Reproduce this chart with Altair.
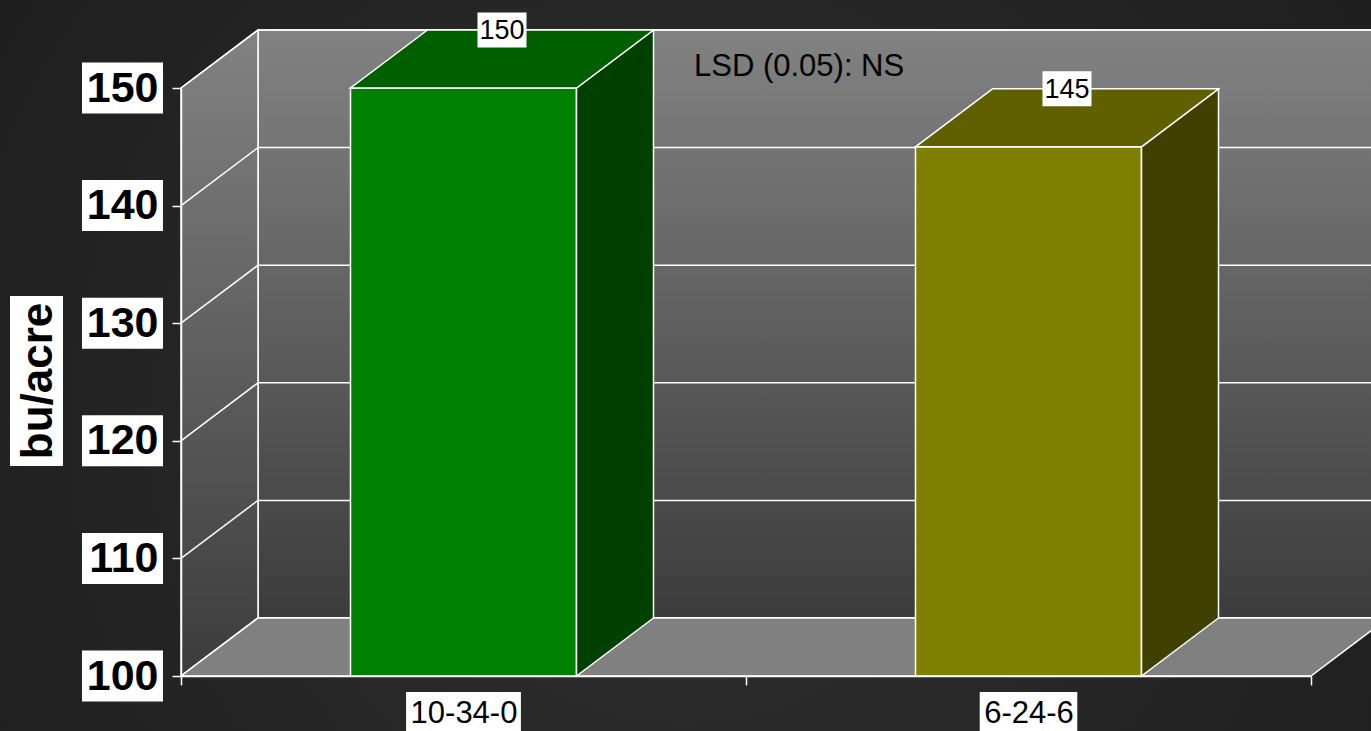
import json
import altair as alt
import pandas as pd

# ---------------- data ----------------
categories = ["10-34-0", "6-24-6"]
yields = [150, 145]
front_colors = ["#008000", "#808000"]
top_colors = ["#006000", "#606000"]
side_colors = ["#004000", "#404000"]
y_ticks = [100, 110, 120, 130, 140, 150]
y_title = "bu/acre"
note_text = "LSD (0.05): NS"

# ---------------- layout / style ----------------
W, H = 1130, 588
PAD = {"left": 181, "top": 88, "right": 60, "bottom": 55}
Y0, Y1 = 100, 150
X0, X1 = -0.5, len(categories) - 0.5
UX = (X1 - X0) / W          # data units per pixel (x)
UY = (Y1 - Y0) / H          # data units per pixel (y)
DX, DY = 77 * UX, 58 * UY   # depth of the 3-D box
HALF = 0.2                  # half bar width (category units)
FONT = "Liberation Sans"
EDGE = dict(stroke="white", strokeWidth=1.5)

xs = alt.Scale(domain=[X0, X1], nice=False, zero=False)
ys = alt.Scale(domain=[Y0, Y1], nice=False, zero=False)

label_expr = ("datum.value % 1 === 0 ? " + json.dumps(categories)
              + "[datum.value] : ''")
x_axis = alt.Axis(values=[X0 + k * 0.5 for k in range(2 * len(categories) + 1)],
                  labelExpr=label_expr, title=None, grid=False,
                  domainColor="white", domainWidth=1.5, tickWidth=1.5, tickSize=9,
                  tickColor={"condition": {"test": "datum.value % 1 === 0",
                                           "value": "transparent"},
                             "value": "white"},
                  labelFont=FONT, labelFontSize=31, labelColor="black",
                  labelPadding=13, labelOverlap=False, labelFlush=False,
                  labelBound=False, zindex=2)
y_axis = alt.Axis(values=y_ticks, title=None, grid=False,
                  domainColor="white", domainWidth=1.5, tickColor="white",
                  tickWidth=1.5, tickSize=9, labelFont=FONT, labelFontSize=43,
                  labelFontWeight="bold", labelColor="black", labelPadding=14,
                  labelFlush=False, labelOverlap=False, zindex=2)


def XQ(f):
    return alt.X(f, type="quantitative", scale=xs, axis=x_axis)


def YQ(f):
    return alt.Y(f, type="quantitative", scale=ys, axis=y_axis, stack=None)


def text_w(s, size):
    m = {"-": 0.333, " ": 0.278, ".": 0.278}
    return sum(m.get(c, 0.556) for c in s) * size


wall_grad = alt.LinearGradient(
    gradient="linear",
    stops=[alt.GradientStop(color="#828282", offset=0),
           alt.GradientStop(color="#3c3c3c", offset=1)],
    x1=0, x2=0, y1=0, y2=1)

bg_grad = alt.RadialGradient(
    gradient="radial",
    stops=[alt.GradientStop(color="#303030", offset=0),
           alt.GradientStop(color="#1a1a1a", offset=1)],
    x1=0.5, y1=0.55, r1=0, x2=0.5, y2=0.55, r2=0.75)

one = pd.DataFrame({"k": [0]})

# background
bg = alt.Chart(one).mark_rect(fill=bg_grad).encode(
    x=alt.value(-PAD["left"]), x2=alt.value(W + PAD["right"]),
    y=alt.value(-PAD["top"]), y2=alt.value(H + PAD["bottom"]))

# back wall
back = alt.Chart(pd.DataFrame({"x": [X0 + DX], "x2": [X1 + DX],
                               "y": [Y0 + DY], "y2": [Y1 + DY]})).mark_rect(
    fill=wall_grad, **EDGE).encode(x=XQ("x"), x2="x2", y=YQ("y"), y2="y2")

grid_back = alt.Chart(pd.DataFrame({"y": [t + DY for t in y_ticks],
                                    "x": X0 + DX, "x2": X1 + DX})).mark_rule(
    color="white", strokeWidth=1.5).encode(x=XQ("x"), x2="x2", y=YQ("y"))

# left wall
left_wall = alt.Chart(pd.DataFrame({"x": [X0, X0 + DX], "y": [Y1, Y1 + DY],
                                    "y2": [Y0, Y0 + DY]})).mark_area(
    fill=wall_grad, orient="vertical", **EDGE).encode(
    x=XQ("x"), y=YQ("y"), y2="y2")

left_diag = alt.Chart(pd.DataFrame({"y": y_ticks, "y2": [t + DY for t in y_ticks],
                                    "x": X0, "x2": X0 + DX})).mark_rule(
    color="white", strokeWidth=1.5).encode(x=XQ("x"), x2="x2", y=YQ("y"), y2="y2")

# floor
floor = alt.Chart(pd.DataFrame({"y": [Y0, Y0 + DY], "x": [X0, X0 + DX],
                                "x2": [X1, X1 + DX]})).mark_area(
    fill="#808080", orient="horizontal", **EDGE).encode(
    x=XQ("x"), x2="x2", y=YQ("y"))

# bars
front_rows, side_rows, top_rows = [], [], []
for i, (c, v) in enumerate(zip(categories, yields)):
    front_rows.append({"cat": c, "x": i - HALF, "x2": i + HALF, "y": Y0, "y2": v,
                       "fill": front_colors[i]})
    side_rows += [{"cat": c, "x": i + HALF, "y": v, "y2": Y0, "fill": side_colors[i]},
                  {"cat": c, "x": i + HALF + DX, "y": v + DY, "y2": Y0 + DY,
                   "fill": side_colors[i]}]
    top_rows += [{"cat": c, "y": v, "x": i - HALF, "x2": i + HALF, "fill": top_colors[i]},
                 {"cat": c, "y": v + DY, "x": i - HALF + DX, "x2": i + HALF + DX,
                  "fill": top_colors[i]}]

bar_front = alt.Chart(pd.DataFrame(front_rows)).mark_rect(**EDGE).encode(
    x=XQ("x"), x2="x2", y=YQ("y"), y2="y2",
    fill=alt.Fill("fill:N", scale=None))

bar_side = alt.Chart(pd.DataFrame(side_rows)).mark_area(
    orient="vertical", **EDGE).encode(
    x=XQ("x"), y=YQ("y"), y2="y2", fill=alt.Fill("fill:N", scale=None),
    detail="cat:N")

bar_top = alt.Chart(pd.DataFrame(top_rows)).mark_area(
    orient="horizontal", **EDGE).encode(
    x=XQ("x"), x2="x2", y=YQ("y"), fill=alt.Fill("fill:N", scale=None),
    detail="cat:N")

# y-axis label boxes
ybox = alt.Chart(pd.DataFrame({"y": [t - 25.5 * UY for t in y_ticks],
                               "y2": [t + 25.5 * UY for t in y_ticks]})).mark_rect(
    fill="white").encode(x=alt.value(-99), x2=alt.value(-18), y=YQ("y"), y2="y2")

# x-axis label boxes
xbox_rows = []
for i, c in enumerate(categories):
    hw = (text_w(c, 31) + 8) / 2 * UX
    xbox_rows.append({"x": i - hw, "x2": i + hw})
xbox = alt.Chart(pd.DataFrame(xbox_rows)).mark_rect(fill="white").encode(
    x=XQ("x"), x2="x2", y=alt.value(H + 16), y2=alt.value(H + 62))

# value labels
val_rows, vbox_rows = [], []
for i, v in enumerate(yields):
    s = str(v)
    hw = (text_w(s, 27) + 4) / 2 * UX
    cx, cy = i + DX / 2, v + DY
    val_rows.append({"x": cx, "y": cy, "t": s})
    vbox_rows.append({"x": cx - hw, "x2": cx + hw,
                      "y": cy - 17.5 * UY, "y2": cy + 17.5 * UY})
vbox = alt.Chart(pd.DataFrame(vbox_rows)).mark_rect(fill="white").encode(
    x=XQ("x"), x2="x2", y=YQ("y"), y2="y2")
vtext = alt.Chart(pd.DataFrame(val_rows)).mark_text(
    font=FONT, fontSize=27, color="black", baseline="middle", align="center",
    dy=1).encode(x=XQ("x"), y=YQ("y"), text="t:N")

# y title
tbox = alt.Chart(one).mark_rect(fill="white").encode(
    x=alt.value(-171), x2=alt.value(-118), y=alt.value(208), y2=alt.value(378))
ttext = alt.Chart(pd.DataFrame({"t": [y_title]})).mark_text(
    font=FONT, fontSize=44, fontWeight="bold", color="black", angle=270,
    align="center", baseline="middle").encode(
    x=alt.value(-142), y=alt.value(293), text="t:N")

# annotation
note = alt.Chart(pd.DataFrame({"t": [note_text]})).mark_text(
    font=FONT, fontSize=31, color="black", align="left",
    baseline="middle").encode(x=alt.value(513), y=alt.value(-21), text="t:N")

chart = alt.layer(
    bg, back, grid_back, left_wall, left_diag, floor,
    bar_front, bar_side, bar_top,
    ybox, xbox, vbox, vtext, tbox, ttext, note
).properties(
    width=W, height=H, padding=PAD,
    autosize=alt.AutoSizeParams(type="none"),
    background="#222222"
).configure_view(stroke=None)

chart.save("out.html", embed_options={"renderer": "svg", "actions": False})
